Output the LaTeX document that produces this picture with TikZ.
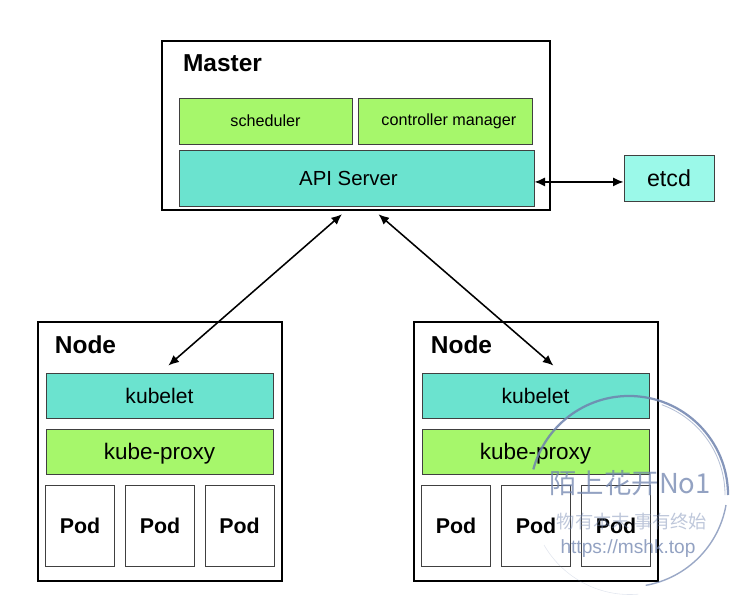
\documentclass[tikz,border=0pt]{standalone}
\usepackage{fontspec}
\usetikzlibrary{arrows.meta}
\setmainfont{Liberation Sans}
\newfontfamily\cjk{Noto Sans CJK SC}
\newcommand{\fs}[1]{\fontsize{#1}{#1}\selectfont}
\definecolor{proxygreen}{HTML}{A6F76B}
\definecolor{apiteal}{HTML}{6BE3CF}
\definecolor{etcdteal}{HTML}{9BF9E9}
\definecolor{stampblue}{HTML}{6F83AE}
\tikzset{
  outerbox/.style={draw, line width=1.4pt, minimum width=6.1cm, minimum height=6.475cm},
  part/.style={draw=black!75, line width=0.6pt, inner sep=0pt},
  proxybox/.style={part, fill=proxygreen, minimum width=5.675cm, minimum height=1.125cm, font=\fs{16}, text depth=0pt},
  kubeletbox/.style={part, fill=apiteal, minimum width=5.675cm, minimum height=1.125cm, font=\fs{15}},
  podbox/.style={part, fill=white, minimum width=1.725cm, minimum height=2.025cm, font=\bfseries\fs{15.2}},
  title/.style={font=\bfseries\fs{17.4}, inner sep=0pt},
  link/.style={{Latex[length=7.5pt,width=6.5pt]}-{Latex[length=7.5pt,width=6.5pt]}, line width=1.1pt},
  stamp/.style={stampblue, opacity=0.75, inner sep=0pt},
}
\begin{document}
\begin{tikzpicture}[x=0.025cm, y=-0.025cm]
\useasboundingbox (0,0) rectangle (741,605);
% master
\node[draw, line width=1.4pt, minimum width=9.7cm, minimum height=4.225cm] (master) at (356,125.5) {};
\node[title] (mastertitle) at (222.5,63) {Master};
\node[part, fill=proxygreen, minimum width=4.325cm, minimum height=1.15cm, font=\fs{11.5}] (scheduler) at (265.5,121) {scheduler};
\node[part, fill=proxygreen, minimum width=4.35cm, minimum height=1.15cm, font=\fs{11.5}] (controller) at (445,121) {\hspace*{5.5pt}controller manager};
\node[part, fill=apiteal, minimum width=8.875cm, minimum height=1.4cm, font=\fs{14.5}] (api) at (356.5,178) {\raisebox{-0.7pt}{API Server}\hspace*{11.4pt}};
\node[part, fill=etcdteal, minimum width=2.25cm, minimum height=1.15cm, font=\fs{16.5}] (etcd) at (669,178) {etcd};
% left node
\node[outerbox] (nodea) at (160,451.5) {};
\node[title] (nodeatitle) at (85.5,345) {Node};
\node[kubeletbox] (kubeleta) at (159.5,395.5) {kubelet};
\node[proxybox] (proxya) at (159.5,451.5) {kube-proxy};
\node[podbox] (poda) at (80,525.5) {Pod};
\node[podbox] (podb) at (160,525.5) {Pod};
\node[podbox] (podc) at (239.5,525.5) {Pod};
% right node
\node[outerbox] (nodeb) at (536,451.5) {};
\node[title] (nodebtitle) at (461.5,345) {Node};
\node[kubeletbox] (kubeletb) at (535.5,395.5) {kubelet};
\node[proxybox] (proxyb) at (535.5,451.5) {kube-proxy};
\node[podbox] (podd) at (456,525.5) {Pod};
\node[podbox] (pode) at (536,525.5) {Pod};
\node[podbox] (podf) at (616,525.5) {Pod};
% links
\draw[link] ([xshift=-10pt,yshift=-2.3pt]master.south) -- ([xshift=6.3pt,yshift=5pt]kubeleta.north);
\draw[link] ([xshift=16pt,yshift=-2.3pt]master.south) -- ([xshift=12.7pt,yshift=5pt]kubeletb.north);
\draw[link] ([yshift=-2.8pt]api.east) -- ([yshift=-2.8pt]etcd.west);
% stamp
\draw[stampblue, opacity=0.85, line width=1.6pt] (728,495) arc[start angle=0, end angle=165, radius=2.475cm];
\draw[stampblue, opacity=0.5, line width=0.6pt] (725,495) arc[start angle=0, end angle=70, radius=2.4cm];
\draw[stampblue, opacity=0.7, line width=1pt] (726,505) arc[start angle=-10, end angle=-80, radius=2.475cm];
\draw[stampblue, opacity=0.2, line width=0.4pt] (544,545) arc[start angle=210, end angle=275, radius=2.475cm];
\node[stamp, font=\cjk\fs{19.5}] (stampname) at (630,483) {陌上花开No1};
\node[stamp, font=\cjk\fs{13}, opacity=0.45] (stampline) at (632,522) {物有本末 事有终始};
\node[stamp, font=\fs{13.6}] (stampurl) at (628,549) {https://mshk.top};
\end{tikzpicture}
\end{document}
